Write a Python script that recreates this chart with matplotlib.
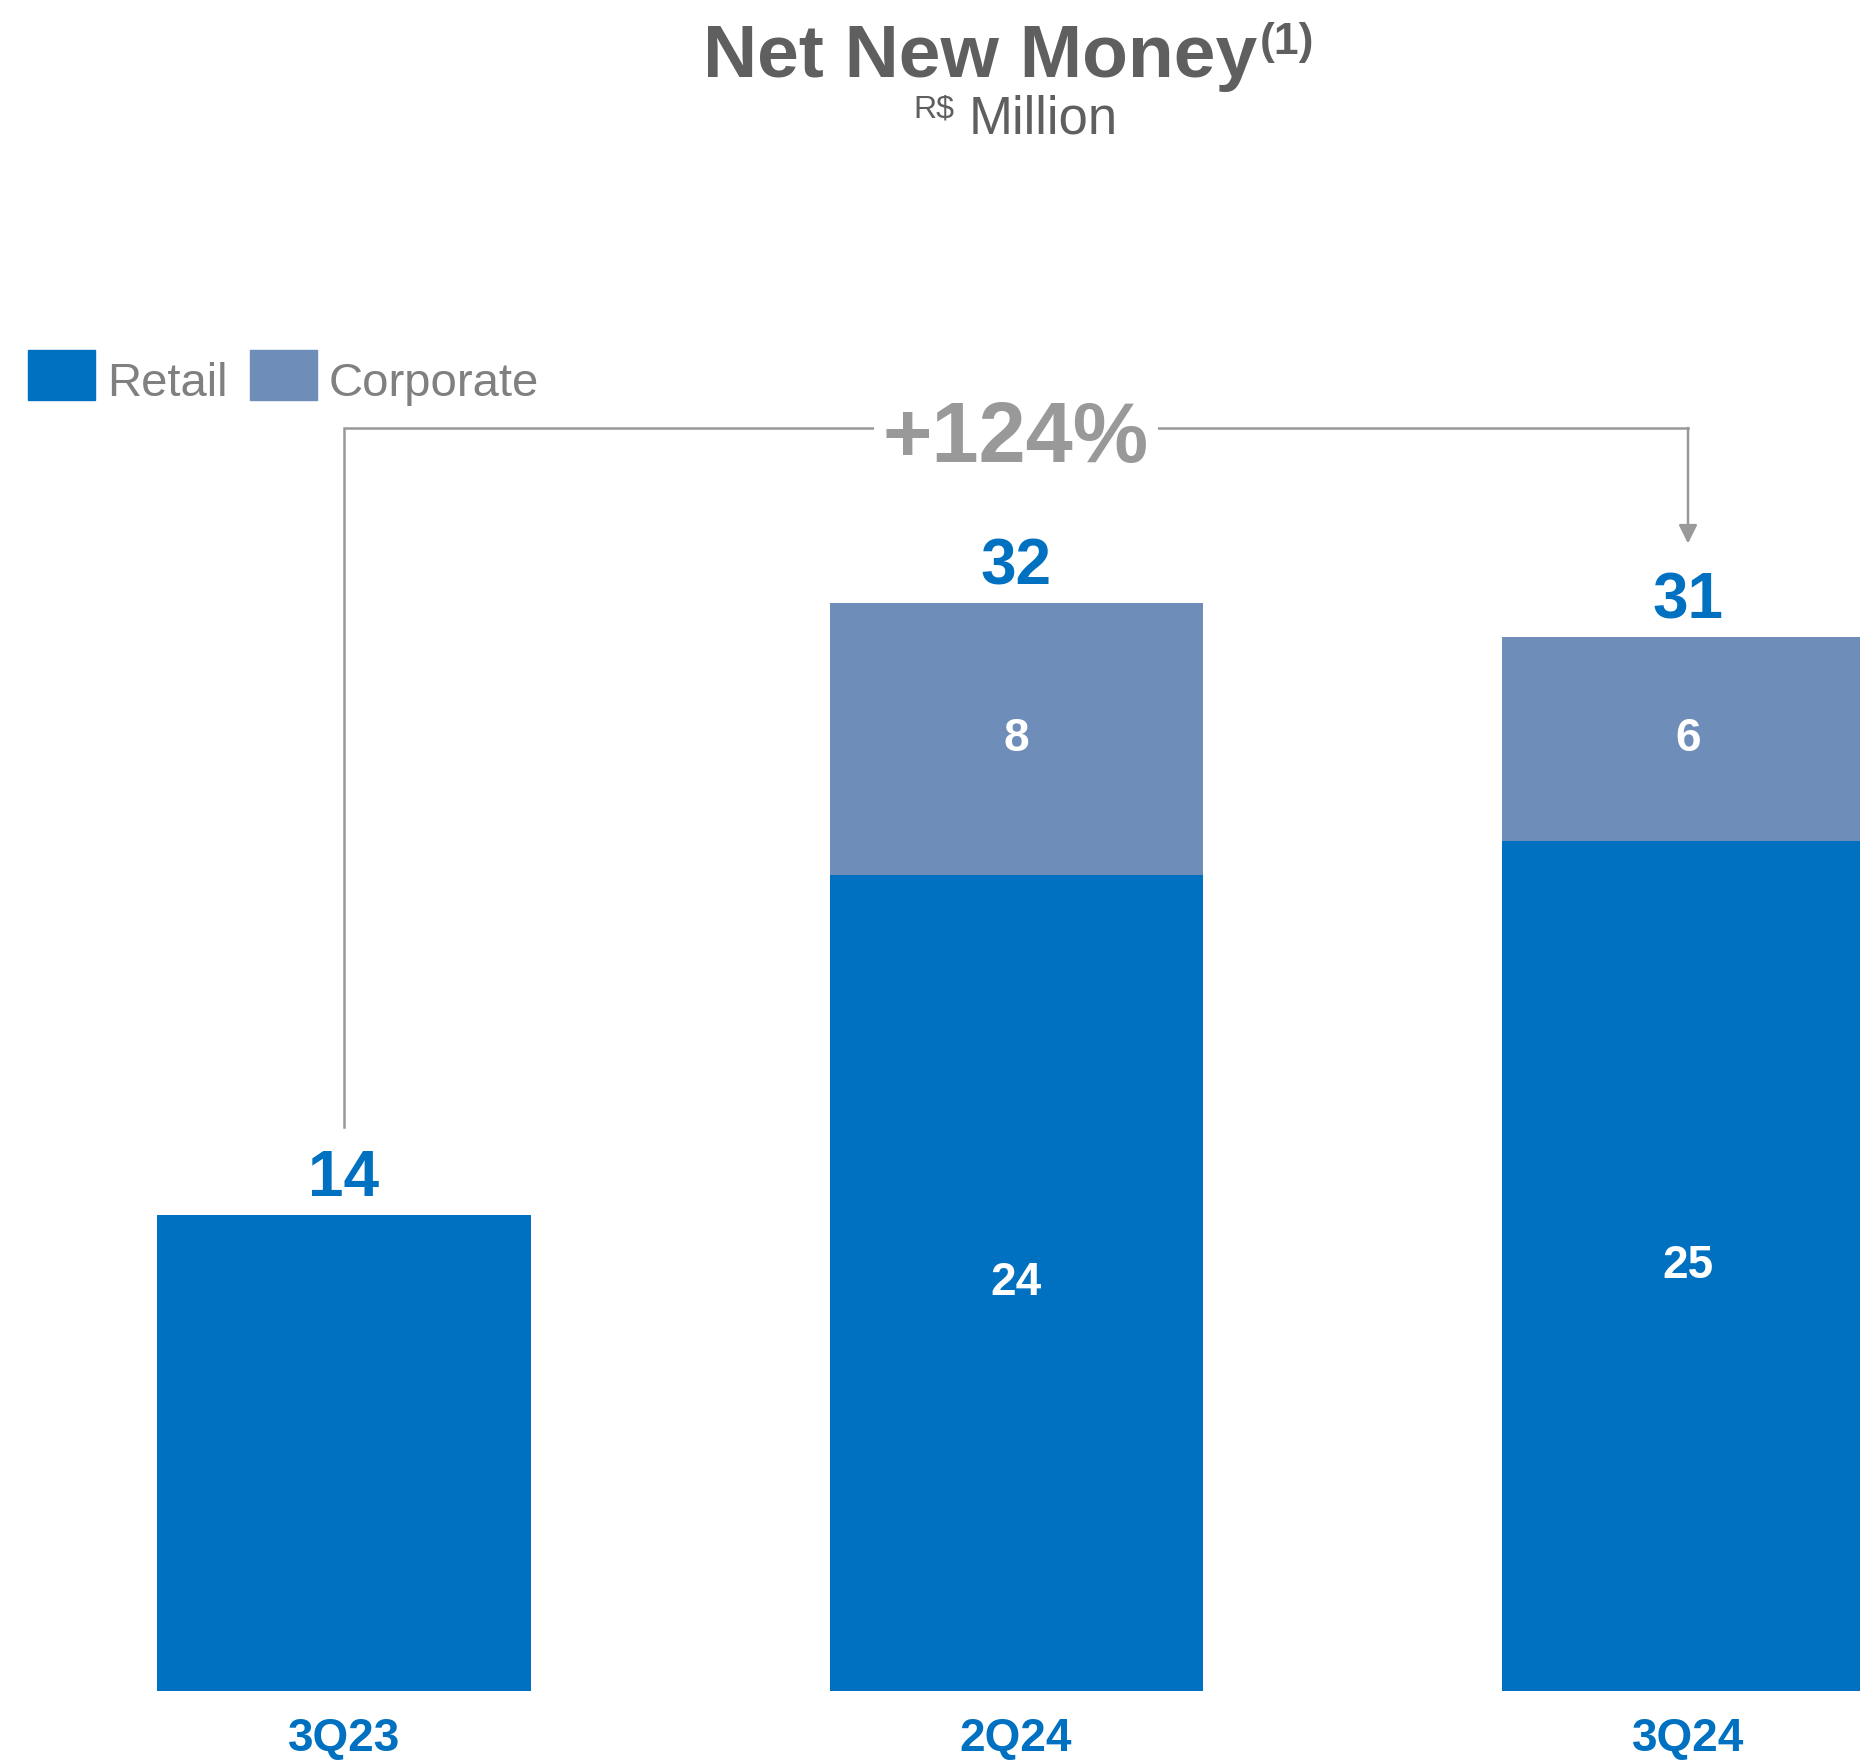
import matplotlib.pyplot as plt
from matplotlib.patches import Rectangle
from matplotlib import transforms

plt.rcParams['font.family'] = ['Liberation Sans', 'DejaVu Sans']

trimestres = ['3Q23', '2Q24', '3Q24']
varejo = [14, 24, 25]
corporativo = [0, 8, 6]
totais = [14, 32, 31]
crescimento = '+124%'

azul = '#0070C0'
azulCinza = '#6F8DB9'
cinzaTitulo = '#5F5F5F'
cinzaLegenda = '#808080'
cinzaSeta = '#999999'

W, H = 1860, 1760
fig = plt.figure(figsize=(W / 100, H / 100), dpi=100)
ax = fig.add_axes([0, 69 / H, 1, 1691 / H])
ax.set_xlim(-344 / 672, (W - 344) / 672)
ax.set_ylim(0, 1691 / 34)
ax.axis('off')

posicoes = list(range(len(trimestres)))
largura = 373 / 672
ax.bar(posicoes, varejo, width=largura, color=azul, label='Retail')
ax.bar(posicoes, corporativo, width=largura, bottom=varejo, color=azulCinza, label='Corporate')

# rotulos dentro das barras
for x, v, c in zip(posicoes, varejo, corporativo):
    if v > 0 and c > 0:
        ax.text(x, v / 2, str(v), ha='center', va='center', color='white',
                fontsize=33, fontweight='bold')
    if c > 0:
        ax.text(x, v + c / 2, str(c), ha='center', va='center', color='white',
                fontsize=33, fontweight='bold')

# totais acima das barras
for x, t in zip(posicoes, totais):
    ax.annotate(str(t), xy=(x, t), xytext=(0, 13.5), textcoords='offset points',
                ha='center', va='baseline', color=azul, fontsize=46, fontweight='bold')

# trimestres embaixo
mistura = transforms.blended_transform_factory(ax.transData, fig.transFigure)
for x, q in zip(posicoes, trimestres):
    ax.text(x, 9 / H, q, transform=mistura, ha='center', va='baseline',
            color=azul, fontsize=33, fontweight='bold', clip_on=False)

# seta de crescimento 3Q23 -> 3Q24
yLinha = 37.15
ax.plot([posicoes[0], posicoes[0], posicoes[2]], [totais[0] + 2.6, yLinha, yLinha],
        color=cinzaSeta, lw=1.8, solid_joinstyle='miter')
ax.annotate('', xy=(posicoes[2], totais[2] + 2.75), xytext=(posicoes[2], yLinha),
            arrowprops=dict(arrowstyle='-|>', color=cinzaSeta, lw=1.8,
                            mutation_scale=28, shrinkA=0, shrinkB=0))
ax.text(posicoes[1], yLinha - 1.0, crescimento, ha='center', va='baseline', color=cinzaSeta,
        fontsize=61, fontweight='bold',
        bbox=dict(facecolor='white', edgecolor='none', pad=6))

# titulo
fig.text(1257 / W, 1 - 77 / H, 'Net New Money', ha='right', va='baseline',
         color=cinzaTitulo, fontsize=54, fontweight='bold')
fig.text(1260 / W, 1 - 54 / H, '(1)', ha='left', va='baseline',
         color=cinzaTitulo, fontsize=32, fontweight='bold')
fig.text(913 / W, 1 - 118 / H, 'R$', ha='left', va='baseline',
         color=cinzaTitulo, fontsize=23)
fig.text(969 / W, 1 - 133 / H, 'Million', ha='left', va='baseline',
         color=cinzaTitulo, fontsize=38)

# legenda
for x0, x1, cor, nome in [(28, 107, azul, 'Retail'), (250, 329, azulCinza, 'Corporate')]:
    fig.add_artist(Rectangle((x0 / W, 1 - 400 / H), 67 / W, 50 / H,
                             transform=fig.transFigure, color=cor))
    fig.text(x1 / W, 1 - 396 / H, nome, ha='left', va='baseline',
             color=cinzaLegenda, fontsize=34)

fig.savefig('out.png', dpi=100)
